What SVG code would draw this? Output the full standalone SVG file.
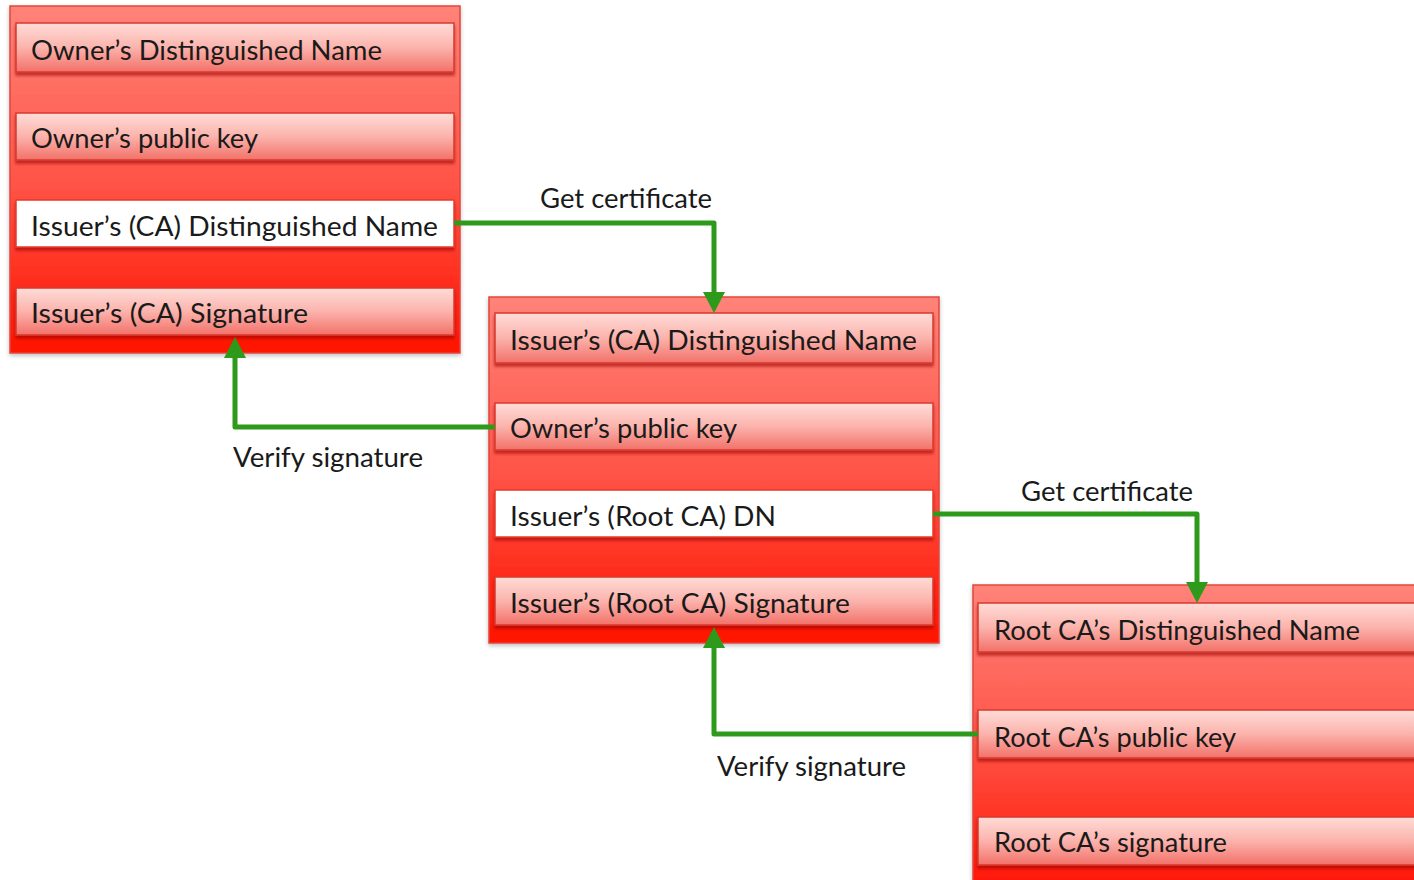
<svg xmlns="http://www.w3.org/2000/svg" width="1414" height="880" viewBox="0 0 1414 880">
<defs>
<linearGradient id="boxg" x1="0" y1="0" x2="0" y2="1">
<stop offset="0" stop-color="#ff837a"/>
<stop offset="0.5" stop-color="#ff5548"/>
<stop offset="1" stop-color="#ff1200"/>
</linearGradient>
<linearGradient id="fieldg" x1="0" y1="0" x2="0" y2="1">
<stop offset="0" stop-color="#ffdcd8"/>
<stop offset="0.5" stop-color="#fbb3ac"/>
<stop offset="1" stop-color="#f27169"/>
</linearGradient>
<filter id="sh" x="-5%" y="-20%" width="110%" height="150%">
<feDropShadow dx="0" dy="3" stdDeviation="1.5" flood-color="#9a0000" flood-opacity="0.6"/>
</filter>
<filter id="bsh" x="-5%" y="-5%" width="110%" height="110%">
<feDropShadow dx="0" dy="2" stdDeviation="2" flood-color="#000" flood-opacity="0.25"/>
</filter>
<marker id="ah" markerUnits="userSpaceOnUse" markerWidth="22" markerHeight="24" refX="0" refY="12" orient="auto">
<path d="M0,1 L21,12 L0,23 Z" fill="#2e9a1b"/>
</marker>
</defs>
<style>
.box{fill:url(#boxg);stroke:#e0473c;stroke-width:1.5;filter:url(#bsh)}
.fld{fill:url(#fieldg);stroke:#d9382b;stroke-width:1.5;filter:url(#sh)}
.wfld{fill:#ffffff;stroke:#e8392a;stroke-width:1.5;filter:url(#sh)}
.t{font-family:Lato,"Open Sans","Liberation Sans",sans-serif;font-size:27px;fill:#1a1a1a}
.lbl{font-family:Lato,"Open Sans","Liberation Sans",sans-serif;font-size:26px;fill:#1a1a1a}
.con{fill:none;stroke:#2e9a1b;stroke-width:5;stroke-linejoin:round}
</style>
<rect width="1414" height="880" fill="#ffffff"/>

<g id="cert1">
<rect class="box" x="10" y="6" width="450" height="347"/>
<rect class="fld" x="16" y="23" width="438" height="49"/>
<text class="t" x="31" y="60" textLength="351" lengthAdjust="spacingAndGlyphs">Owner’s Distinguished Name</text>
<rect class="fld" x="16" y="113" width="438" height="47"/>
<text class="t" x="31" y="148" textLength="227" lengthAdjust="spacingAndGlyphs">Owner’s public key</text>
<rect class="wfld" x="16" y="200" width="438" height="47"/>
<text class="t" x="31" y="236" textLength="407" lengthAdjust="spacingAndGlyphs">Issuer’s (CA) Distinguished Name</text>
<rect class="fld" x="16" y="288" width="438" height="47"/>
<text class="t" x="31" y="323" textLength="277" lengthAdjust="spacingAndGlyphs">Issuer’s (CA) Signature</text>
</g>

<g id="cert2">
<rect class="box" x="489" y="297" width="450" height="346"/>
<rect class="fld" x="495" y="313" width="438" height="50"/>
<text class="t" x="510" y="350" textLength="407" lengthAdjust="spacingAndGlyphs">Issuer’s (CA) Distinguished Name</text>
<rect class="fld" x="495" y="403" width="438" height="47"/>
<text class="t" x="510" y="438" textLength="227" lengthAdjust="spacingAndGlyphs">Owner’s public key</text>
<rect class="wfld" x="495" y="490" width="438" height="47"/>
<text class="t" x="510" y="526" textLength="266" lengthAdjust="spacingAndGlyphs">Issuer’s (Root CA) DN</text>
<rect class="fld" x="495" y="577" width="438" height="48"/>
<text class="t" x="510" y="613" textLength="340" lengthAdjust="spacingAndGlyphs">Issuer’s (Root CA) Signature</text>
</g>

<g id="cert3">
<rect class="box" x="973" y="585" width="450" height="310"/>
<rect class="fld" x="978" y="603" width="440" height="49"/>
<text class="t" x="994" y="640" textLength="366" lengthAdjust="spacingAndGlyphs">Root CA’s Distinguished Name</text>
<rect class="fld" x="978" y="710" width="440" height="48"/>
<text class="t" x="994" y="747" textLength="242" lengthAdjust="spacingAndGlyphs">Root CA’s public key</text>
<rect class="fld" x="978" y="817" width="440" height="48"/>
<text class="t" x="994" y="852" textLength="233" lengthAdjust="spacingAndGlyphs">Root CA’s signature</text>
</g>

<g id="connectors">
<path class="con" d="M454,223 H714 V292" marker-end="url(#ah)"/>
<path class="con" d="M495,427 H235 V358" marker-end="url(#ah)"/>
<path class="con" d="M933,514 H1197 V582" marker-end="url(#ah)"/>
<path class="con" d="M978,734 H714 V648" marker-end="url(#ah)"/>
</g>

<g id="labels">
<text class="lbl" x="540" y="208" textLength="172" lengthAdjust="spacingAndGlyphs">Get certificate</text>
<text class="lbl" x="233" y="467" textLength="190" lengthAdjust="spacingAndGlyphs">Verify signature</text>
<text class="lbl" x="1021" y="501" textLength="172" lengthAdjust="spacingAndGlyphs">Get certificate</text>
<text class="lbl" x="717" y="776" textLength="189" lengthAdjust="spacingAndGlyphs">Verify signature</text>
</g>
</svg>
